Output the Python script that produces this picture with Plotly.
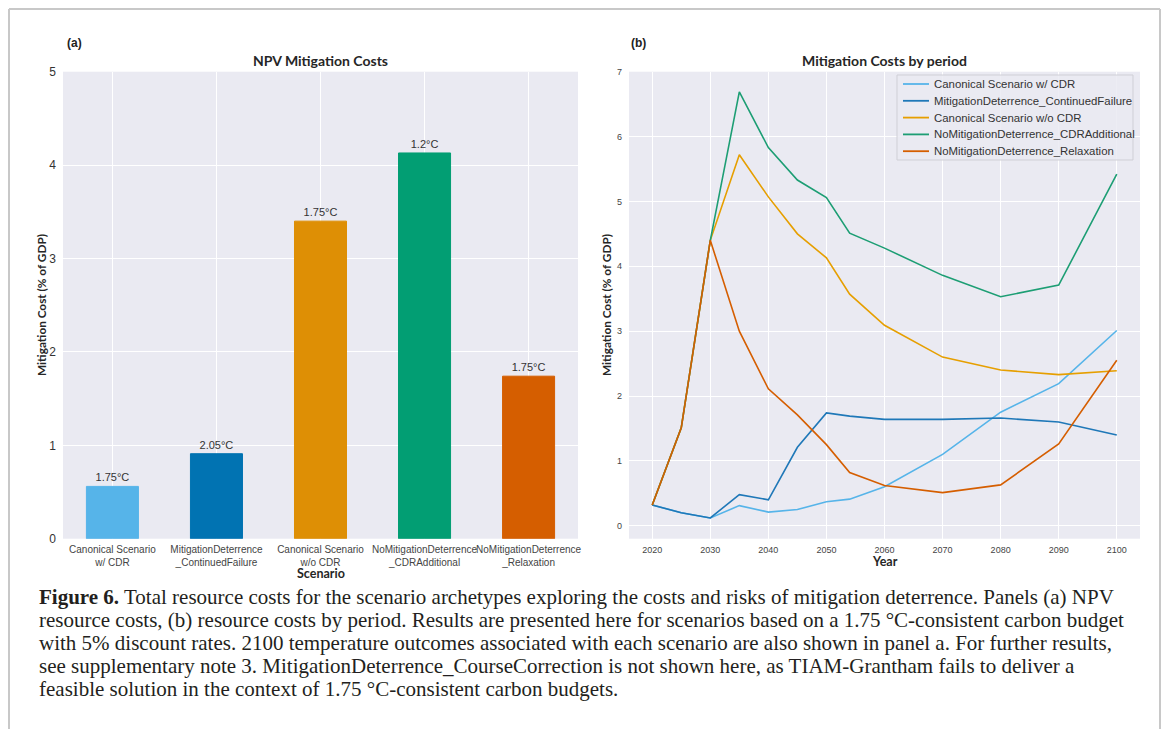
import plotly.graph_objects as go

# ---------------- data ----------------
scenario_labels = [
    "Canonical Scenario<br>w/ CDR",
    "MitigationDeterrence<br>_ContinuedFailure",
    "Canonical Scenario<br>w/o CDR",
    "NoMitigationDeterrence<br>_CDRAdditional",
    "NoMitigationDeterrence<br>_Relaxation",
]
scenario_pos = [0, 1, 2, 3, 4]
npv_cost = [0.56, 0.91, 3.40, 4.13, 1.74]
temps_2100 = ["1.75°C", "2.05°C", "1.75°C", "1.2°C", "1.75°C"]
bar_colors = ["#56B4E9", "#0173B2", "#DE8F05", "#029E73", "#D55E00"]

years = [2020, 2025, 2030, 2035, 2040, 2045, 2050, 2054, 2060, 2070, 2080, 2090, 2100]
canon_cdr = [0.32, 0.20, 0.12, 0.31, 0.21, 0.25, 0.37, 0.41, 0.60, 1.10, 1.75, 2.19, 3.01]
cont_fail = [0.32, 0.20, 0.12, 0.48, 0.40, 1.21, 1.74, 1.69, 1.64, 1.64, 1.66, 1.60, 1.40]
canon_nocdr = [0.32, 1.51, 4.40, 5.72, 5.07, 4.50, 4.13, 3.57, 3.09, 2.60, 2.40, 2.33, 2.39]
cdr_add = [0.32, 1.51, 4.40, 6.69, 5.83, 5.33, 5.06, 4.51, 4.28, 3.86, 3.53, 3.71, 5.42]
relax = [0.32, 1.51, 4.40, 3.00, 2.11, 1.71, 1.25, 0.82, 0.62, 0.51, 0.63, 1.26, 2.55]

line_names = [
    "Canonical Scenario w/ CDR",
    "MitigationDeterrence_ContinuedFailure",
    "Canonical Scenario w/o CDR",
    "NoMitigationDeterrence_CDRAdditional",
    "NoMitigationDeterrence_Relaxation",
]
line_series = [canon_cdr, cont_fail, canon_nocdr, cdr_add, relax]
line_colors = ["#56B4E9", "#1F78B8", "#E69F00", "#1D9E74", "#D55E00"]

caption_lines = [
    "<b>Figure 6.</b> Total resource costs for the scenario archetypes exploring the costs and risks of mitigation deterrence. Panels (a) NPV",
    "resource costs, (b) resource costs by period. Results are presented here for scenarios based on a 1.75 °C-consistent carbon budget",
    "with 5% discount rates. 2100 temperature outcomes associated with each scenario are also shown in panel a. For further results,",
    "see supplementary note 3. MitigationDeterrence_CourseCorrection is not shown here, as TIAM-Grantham fails to deliver a",
    "feasible solution in the context of 1.75 °C-consistent carbon budgets.",
]

# ---------------- layout helpers ----------------
W, H = 1153, 721


def px(x):
    return x / W


def py(y):
    return 1 - y / H


BG = "#EAEAF2"
TICK = "#333333"
SANS = "Liberation Sans, Arial, sans-serif"
BOLD = "Lato, Open Sans, sans-serif"

fig = go.Figure()

fig.add_trace(go.Bar(
    x=scenario_pos, y=npv_cost, width=0.5,
    marker=dict(color=bar_colors, line=dict(color=bar_colors, width=1)),
    text=temps_2100, textposition="outside", cliponaxis=False,
    textfont=dict(family=SANS, size=11, color=TICK),
    xaxis="x", yaxis="y", showlegend=False, hoverinfo="skip",
))

for name, vals, col in zip(line_names, line_series, line_colors):
    fig.add_trace(go.Scatter(
        x=years, y=vals, mode="lines", name=name, showlegend=False,
        line=dict(color=col, width=1.6),
        xaxis="x2", yaxis="y2",
    ))

ydom = [py(530.7), py(63.7)]

fig.update_layout(
    width=W, height=H,
    margin=dict(l=0, r=0, t=0, b=0, autoexpand=False),
    paper_bgcolor="white", plot_bgcolor=BG,
    xaxis=dict(
        domain=[px(55), px(570)], anchor="y", automargin=False,
        range=[-0.475, 4.475], tickvals=scenario_pos, ticktext=scenario_labels,
        showgrid=True, gridcolor="white", gridwidth=1.2, zeroline=False,
        ticks="", ticklabelstandoff=3, tickangle=0,
        tickfont=dict(family=SANS, size=10, color="#444444"),
        showline=False,
    ),
    yaxis=dict(
        domain=ydom, anchor="x", automargin=False,
        range=[0, 5], dtick=1, showgrid=True, gridcolor="white", gridwidth=1.2,
        zeroline=False, ticks="", ticklabelstandoff=6,
        tickfont=dict(family=SANS, size=12, color=TICK),
    ),
    xaxis2=dict(
        domain=[px(621), px(1132)], anchor="y2", automargin=False,
        range=[2016, 2104], tickvals=[2020, 2030, 2040, 2050, 2060, 2070, 2080, 2090, 2100],
        showgrid=True, gridcolor="white", gridwidth=1.2, zeroline=False,
        ticks="", ticklabelstandoff=4, tickangle=0,
        tickfont=dict(family=SANS, size=9, color="#444444"),
    ),
    yaxis2=dict(
        domain=ydom, anchor="x2", automargin=False,
        range=[-0.2, 7], dtick=1, showgrid=True, gridcolor="white", gridwidth=1.2,
        zeroline=False, ticks="", ticklabelstandoff=6,
        tickfont=dict(family=SANS, size=9, color="#444444"),
    ),
    showlegend=False,
)

ann = []
shapes = []

# panel letters and titles
ann.append(dict(text="<b>(a)</b>", x=px(57), y=py(35), xanchor="left", yanchor="middle",
                font=dict(family=SANS, size=12, color="#222")))
ann.append(dict(text="<b>(b)</b>", x=px(621), y=py(35), xanchor="left", yanchor="middle",
                font=dict(family=SANS, size=12, color="#222")))
ann.append(dict(text="<b>NPV Mitigation Costs</b>", x=px(312.5), y=py(53), xanchor="center", yanchor="middle",
                font=dict(family=BOLD, size=14, color="#262626")))
ann.append(dict(text="<b>Mitigation Costs by period</b>", x=px(876.5), y=py(53), xanchor="center", yanchor="middle",
                font=dict(family=BOLD, size=14, color="#262626")))
# axis titles
ann.append(dict(text="<b>Mitigation Cost (% of GDP)</b>", x=px(33), y=py(297), textangle=-90,
                xanchor="center", yanchor="middle", font=dict(family=BOLD, size=11.8, color="#262626")))
ann.append(dict(text="<b>Mitigation Cost (% of GDP)</b>", x=px(598), y=py(297), textangle=-90,
                xanchor="center", yanchor="middle", font=dict(family=BOLD, size=11.8, color="#262626")))
ann.append(dict(text="<b>Scenario</b>", x=px(312.5), y=py(565), xanchor="center", yanchor="middle",
                font=dict(family=BOLD, size=12.5, color="#262626")))
ann.append(dict(text="<b>Year</b>", x=px(876.5), y=py(553), xanchor="center", yanchor="middle",
                font=dict(family=BOLD, size=12.5, color="#262626")))

# legend (drawn manually to match compact row spacing)
LX0, LX1, LY0, LY1 = 889, 1125, 67, 152
shapes.append(dict(type="rect", xref="paper", yref="paper",
                   x0=px(LX0), x1=px(LX1), y0=py(LY1), y1=py(LY0),
                   fillcolor="rgba(234,234,242,0.85)", line=dict(color="#CFCFD6", width=1)))
for i, (name, col) in enumerate(zip(line_names, line_colors)):
    ry = 76 + 16.8 * i
    shapes.append(dict(type="line", xref="paper", yref="paper",
                       x0=px(895), x1=px(921), y0=py(ry), y1=py(ry),
                       line=dict(color=col, width=1.8)))
    ann.append(dict(text=name, x=px(924), y=py(ry), xanchor="left", yanchor="middle",
                    font=dict(family=SANS, size=11.4, color="#333333")))

# caption
for i, line in enumerate(caption_lines):
    ann.append(dict(text=line, x=px(29), y=py(589 + 23 * i), xanchor="left", yanchor="middle",
                    font=dict(family="Liberation Serif, Times New Roman, serif", size=21.0, color="#231F20")))
for a in ann:
    a.update(xref="paper", yref="paper", showarrow=False)

# frame (open at bottom)
border = dict(color="#C8C8C8", width=2)
shapes += [
    dict(type="line", xref="paper", yref="paper", x0=px(1), x1=px(1), y0=0, y1=py(1), line=border),
    dict(type="line", xref="paper", yref="paper", x0=px(1), x1=px(1152), y0=py(1), y1=py(1), line=border),
    dict(type="line", xref="paper", yref="paper", x0=px(1152), x1=px(1152), y0=0, y1=py(1), line=border),
]
fig.update_layout(annotations=ann, shapes=shapes)

fig.write_html("out.html")
